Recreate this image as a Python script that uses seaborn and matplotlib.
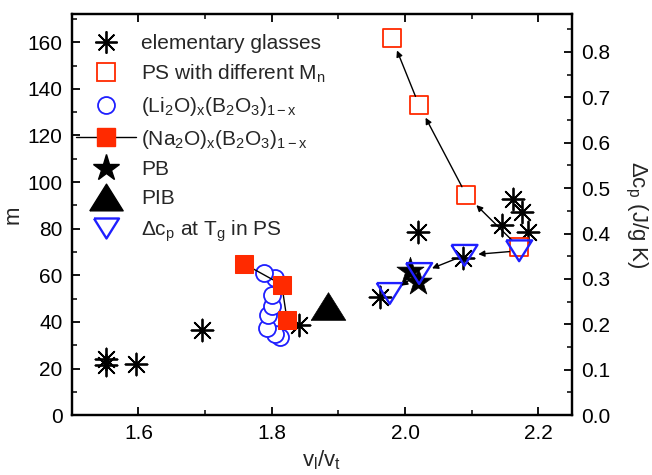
import numpy as np
import pandas as pd
import matplotlib
matplotlib.use("Agg")
import matplotlib.pyplot as plt
from matplotlib.ticker import MultipleLocator, FormatStrFormatter
from matplotlib.lines import Line2D
import seaborn as sns

# ---- data -------------------------------------------------------------
# elementary glasses: (v_l/v_t, m)
elem_x = [1.552, 1.552, 1.597, 1.695, 1.841, 1.962, 2.020, 2.087, 2.145, 2.162, 2.175, 2.184]
elem_m = [24.0, 21.5, 22.0, 36.7, 38.6, 50.5, 78.5, 67.5, 81.4, 92.9, 87.1, 78.6]

# polystyrene with different molecular weight: (v_l/v_t, m)
ps_x = [2.171, 2.092, 2.021, 1.980]
ps_m = [72.0, 94.3, 132.9, 162.0]

# Li2O-B2O3 glasses
li_x = [1.812, 1.805, 1.793, 1.795, 1.800, 1.800, 1.805, 1.788]
li_m = [33.5, 35.0, 37.5, 43.0, 47.0, 51.5, 59.0, 60.8]

# Na2O-B2O3 glasses
na_x = [1.758, 1.815, 1.823]
na_m = [65.0, 56.0, 40.7]

# polybutadiene
pb_x = [2.007, 2.020]
pb_m = [62.0, 57.0]

# polyisobutylene
pib_x = [1.884]
pib_m = [46.7]

# heat capacity step at Tg in PS: (v_l/v_t, delta c_p)
dcp_x = [2.171, 2.089, 2.021, 1.977]
dcp_v = [0.362, 0.352, 0.312, 0.268]

RED = "#ff2a00"
BLUE = "#1f1fff"
FS = 15

# ---- style ------------------------------------------------------------
sns.set_theme(style="ticks")
plt.rcParams["font.family"] = ["Liberation Sans", "DejaVu Sans"]
plt.rcParams["mathtext.fontset"] = "custom"
plt.rcParams["mathtext.rm"] = "Liberation Sans"
plt.rcParams["mathtext.it"] = "Liberation Sans"
plt.rcParams["mathtext.default"] = "regular"
plt.rcParams["font.size"] = FS

fig = plt.figure(figsize=(6.52, 4.75), dpi=100)
ax = fig.add_axes([0.110, 0.126, 0.767, 0.844])
ax2 = ax.twinx()

asterisk = (8, 2, 0)
tri_down = [(-1.0, 0.8), (1.0, 0.8), (0.0, -0.8), (-1.0, 0.8)]
tri_up = [(-1.0, -0.8), (1.0, -0.8), (0.0, 0.8), (-1.0, -0.8)]

# m on the left axis
sns.scatterplot(x=elem_x, y=elem_m, ax=ax, marker=asterisk, s=250,
                color="black", linewidth=1.3, zorder=3)
sns.scatterplot(x=ps_x, y=ps_m, ax=ax, marker="s", s=165,
                facecolor="white", edgecolor=RED, linewidth=1.3, zorder=4)
sns.scatterplot(x=li_x, y=li_m, ax=ax, marker="o", s=150,
                facecolor="white", edgecolor=BLUE, linewidth=1.3, zorder=3)
sns.lineplot(x=na_x, y=na_m, ax=ax, sort=False, color="black", lw=1.0,
             marker="s", markersize=13, markerfacecolor=RED,
             markeredgecolor=RED, zorder=4)
sns.scatterplot(x=pb_x, y=pb_m, ax=ax, marker="*", s=420,
                color="black", edgecolor="black", linewidth=0.5, zorder=4)
sns.scatterplot(x=pib_x, y=pib_m, ax=ax, marker=tri_up, s=620,
                color="black", edgecolor="black", linewidth=0.5, zorder=4)

# Δc_p on the right axis (drawn above the left-axis marks)
sns.scatterplot(x=dcp_x, y=dcp_v, ax=ax2, marker=tri_down, s=350,
                facecolor="none", edgecolor=BLUE, linewidth=1.7, zorder=5)

# arrows along the PS series
arrow_kw = dict(arrowstyle="-|>", color="black", lw=1.0,
                mutation_scale=9, shrinkA=7, shrinkB=10)
for i in range(len(ps_x) - 1):
    ax.annotate("", xy=(ps_x[i + 1], ps_m[i + 1]), xytext=(ps_x[i], ps_m[i]),
                arrowprops=arrow_kw, zorder=6)
for i in range(len(dcp_x) - 1):
    ax2.annotate("", xy=(dcp_x[i + 1], dcp_v[i + 1]), xytext=(dcp_x[i], dcp_v[i]),
                 arrowprops=arrow_kw, zorder=6)

# ---- axes -------------------------------------------------------------
ax.set_xlim(1.5, 2.25)
ax.set_ylim(0, 172)
ax2.set_ylim(0, 0.883)

ax.xaxis.set_major_locator(MultipleLocator(0.2))
ax.xaxis.set_minor_locator(MultipleLocator(0.1))
ax.yaxis.set_major_locator(MultipleLocator(20))
ax.yaxis.set_minor_locator(MultipleLocator(10))
ax2.yaxis.set_major_locator(MultipleLocator(0.1))
ax2.yaxis.set_minor_locator(MultipleLocator(0.05))
ax2.yaxis.set_major_formatter(FormatStrFormatter("%.1f"))

for a in (ax, ax2):
    for sp in a.spines.values():
        sp.set_linewidth(1.6)
        sp.set_color("black")
    a.tick_params(which="major", direction="in", length=6, width=1.3,
                  labelsize=FS, colors="black", pad=6.5)
    a.tick_params(which="minor", direction="in", length=3.5, width=1.3)

ax.tick_params(which="both", top=True, right=False)
ax2.tick_params(which="both", left=False, right=True)

ax.set_xlabel("v$_l$/v$_t$", fontsize=FS + 1, labelpad=4)
ax.set_ylabel("m", fontsize=FS + 1, labelpad=3)
ax2.set_ylabel("Δc$_p$ (J/g K)", fontsize=FS + 1, rotation=270, labelpad=28)

# ---- legend -----------------------------------------------------------
handles = [
    Line2D([], [], ls="none", marker=asterisk, ms=16, mec="black", mew=1.3),
    Line2D([], [], ls="none", marker="s", ms=12.8, mfc="white", mec=RED, mew=1.3),
    Line2D([], [], ls="none", marker="o", ms=12.2, mfc="white", mec=BLUE, mew=1.3),
    Line2D([], [], ls="-", color="black", lw=1.0, marker="s", ms=13, mfc=RED, mec=RED),
    Line2D([], [], ls="none", marker="*", ms=20, color="black"),
    Line2D([], [], ls="none", marker=tri_up, ms=24, color="black"),
    Line2D([], [], ls="none", marker=tri_down, ms=18, mfc="none", mec=BLUE, mew=1.7),
]
labels = [
    "elementary glasses",
    "PS with different M$_n$",
    "(Li$_2$O)$_x$(B$_2$O$_3$)$_{1-x}$",
    "(Na$_2$O)$_x$(B$_2$O$_3$)$_{1-x}$",
    "PB",
    "PIB",
    "Δc$_p$ at T$_g$ in PS",
]
ax.legend(handles, labels, loc="upper left", bbox_to_anchor=(0.004, 0.956),
          frameon=False, fontsize=FS, handlelength=2.9, handletextpad=0.25,
          borderaxespad=0.0, borderpad=0.1, labelspacing=0.47)

fig.savefig("out.png", dpi=100)
